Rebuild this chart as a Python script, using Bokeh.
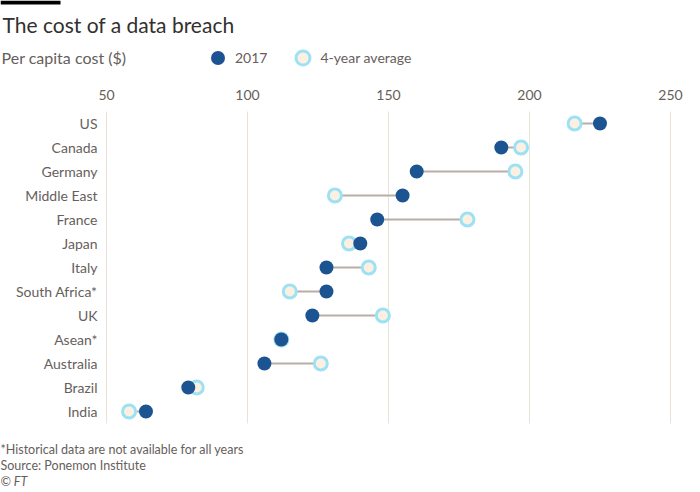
from bokeh.plotting import figure
from bokeh.models import Range1d, Label, Legend, LegendItem, ColumnDataSource, BoxAnnotation
from bokeh.core.properties import value
from bokeh.embed import file_html
from bokeh.resources import INLINE

# data
countries = ["US", "Canada", "Germany", "Middle East", "France", "Japan", "Italy",
             "South Africa*", "UK", "Asean*", "Australia", "Brazil", "India"]
cost_2017 = [225, 190, 160, 155, 146, 140, 128, 128, 123, 112, 106, 79, 64]
cost_avg = [216, 197, 195, 131, 178, 136, 143, 115, 148, 112, 126, 82, 58]
x_ticks = [50, 100, 150, 200, 250]

W, H = 684, 488
FONT = "Lato"
DARK = "#1c5491"
GREY_TEXT = "#66605c"
RING = "#9de2f4"
CREAM = "#fdf0e0"
GRID = "#ebe2d7"

# pixel layout: where 50 and 250 sit, where the first row sits, row pitch
X50, X250 = 106, 670
ROW0, PITCH = 123, 24
px_per_unit = (X250 - X50) / (x_ticks[-1] - x_ticks[0])
x_range = Range1d(x_ticks[0] - X50 / px_per_unit, x_ticks[-1] + (W - X250) / px_per_unit)
y_range = Range1d((H - ROW0) / PITCH, -ROW0 / PITCH)

p = figure(width=W, height=H, output_backend="svg", toolbar_location=None,
           x_range=x_range, y_range=y_range,
           x_axis_location=None, y_axis_location=None,
           min_border=0, min_border_left=0, min_border_right=0,
           min_border_top=0, min_border_bottom=0)
p.outline_line_color = None
p.grid.visible = False

rows = list(range(len(countries)))
src = ColumnDataSource(dict(country=countries, row=rows, y2017=cost_2017, avg=cost_avg))

# vertical grid lines and their labels on top
n = len(countries)
tick_src = ColumnDataSource(dict(x=x_ticks, label=[str(t) for t in x_ticks],
                                 top=[-0.5] * len(x_ticks), bottom=[n - 0.5] * len(x_ticks)))
p.segment(x0="x", y0="top", x1="x", y1="bottom", source=tick_src, line_color=GRID, line_width=1)
p.text(x="x", y="top", text="label", source=tick_src, y_offset=-17,
       text_font=value(FONT), text_font_size="14px", text_color=GREY_TEXT,
       text_align="center", text_baseline="middle")

# country names to the left of the 50 line
p.text(x=x_ticks[0], y="row", text="country", source=src, x_offset=-9,
       text_font=value(FONT), text_font_size="14px", text_color=GREY_TEXT,
       text_align="right", text_baseline="middle")

p.segment(x0="y2017", y0="row", x1="avg", y1="row", source=src,
          line_color="#b8aea6", line_width=2)
avg_r = p.scatter(x="avg", y="row", source=src, size=13,
                  fill_color=CREAM, line_color=RING, line_width=3)
d_r = p.scatter(x="y2017", y="row", source=src, size=14,
                fill_color=DARK, line_color=DARK, line_width=0)

legend = Legend(items=[LegendItem(label="2017", renderers=[d_r]),
                       LegendItem(label="4-year average", renderers=[avg_r])],
                orientation="horizontal", location=(200, H - 75),
                border_line_alpha=0, background_fill_alpha=0, padding=0, margin=0,
                spacing=18, label_standoff=0, glyph_width=35, glyph_height=35,
                label_height=35, label_text_font=FONT, label_text_font_size="14px",
                label_text_color=GREY_TEXT, label_text_baseline="middle")
p.add_layout(legend)

# header and footer texts, screen units from the bottom-left corner
p.add_layout(BoxAnnotation(left=0, right=60, top=H, bottom=H - 4,
                           left_units="screen", right_units="screen",
                           top_units="screen", bottom_units="screen",
                           fill_color="black", fill_alpha=1, line_color=None))
p.add_layout(Label(x=2, y=H - 24, x_units="screen", y_units="screen",
                   text="The cost of a data breach", text_font=FONT, text_font_size="21px",
                   text_color="#33302e", text_baseline="middle"))
p.add_layout(Label(x=1, y=H - 57, x_units="screen", y_units="screen",
                   text="Per capita cost ($)", text_font=FONT, text_font_size="16px",
                   text_color=GREY_TEXT, text_baseline="middle"))
footer = ["*Historical data are not available for all years", "Source: Ponemon Institute"]
for i, t in enumerate(footer):
    p.add_layout(Label(x=0, y=H - 449 - 16 * i, x_units="screen", y_units="screen",
                       text=t, text_font=FONT, text_font_size="12.5px",
                       text_color=GREY_TEXT, text_baseline="middle"))
p.add_layout(Label(x=0, y=H - 481, x_units="screen", y_units="screen",
                   text="© FT", text_font=FONT, text_font_size="12.5px", text_font_style="italic",
                   text_color=GREY_TEXT, text_baseline="middle"))

open("out.html", "w").write(file_html(p, INLINE))
